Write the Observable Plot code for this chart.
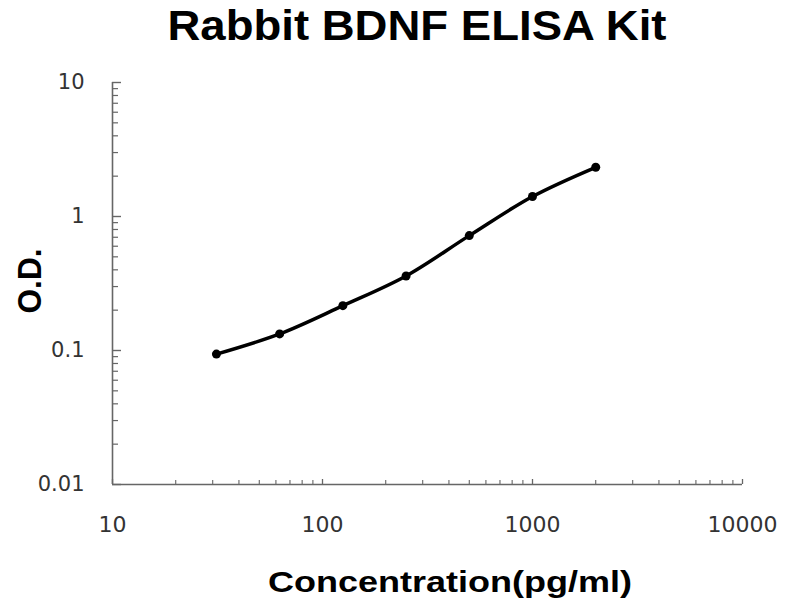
<!DOCTYPE html>
<html>
<head>
<meta charset="utf-8">
<script src="https://cdn.jsdelivr.net/npm/d3@7"></script>
<script src="https://cdn.jsdelivr.net/npm/@observablehq/plot@0.6"></script>
<style>
  html, body { margin: 0; padding: 0; background: #fff; }
  #chart { width: 800px; height: 600px; }
</style>
</head>
<body>
<div id="chart"></div>
<script>
// Data
const concentrations = [31.25, 62.5, 125, 250, 500, 1000, 2000];
const odValues = [0.094, 0.133, 0.216, 0.36, 0.72, 1.41, 2.33];
const xTickLabels = [10, 100, 1000, 10000];
const yTickLabels = [0.01, 0.1, 1, 10];
const titleText = "Rabbit BDNF ELISA Kit";
const xLabelText = "Concentration(pg/ml)";
const yLabelText = "O.D.";

const data = concentrations.map((c, i) => ({conc: c, od: odValues[i]}));

function minorTicks(lo, hi) {
  const out = [];
  for (let d = lo; d < hi; d *= 10) {
    for (let k = 2; k <= 9; k++) out.push(+(k * d).toPrecision(6));
  }
  return out;
}
const xMinor = minorTicks(10, 10000);
const yMinor = minorTicks(0.01, 10);

const axisColor = "#666";

const plot = Plot.plot({
  width: 800,
  height: 600,
  marginLeft: 112,
  marginRight: 58,
  marginTop: 82,
  marginBottom: 116,
  style: {background: "#fff", fontFamily: "DejaVu Sans"},
  x: {type: "log", domain: [10, 10000]},
  y: {type: "log", domain: [0.01, 10]},
  marks: [
    // axis lines
    Plot.ruleX([10], {stroke: axisColor, strokeWidth: 1.6}),
    Plot.ruleY([0.01], {stroke: axisColor, strokeWidth: 1.6}),
    // y ticks (inward)
    Plot.axisY({ticks: yTickLabels, tickSize: 9, dx: 9, text: null, stroke: axisColor, strokeWidth: 1.4, label: null}),
    Plot.axisY({ticks: yMinor, tickSize: 6, dx: 6, text: null, stroke: axisColor, strokeWidth: 1.2, label: null}),
    Plot.axisY({ticks: yTickLabels, tickSize: 0, tickPadding: 28, tickFormat: d => String(d), fontSize: 21, fill: "#333", label: null}),
    // x ticks (inward)
    Plot.axisX({ticks: xTickLabels, tickSize: 5, dy: -5, text: null, stroke: axisColor, strokeWidth: 1.3, label: null}),
    Plot.axisX({ticks: xMinor, tickSize: 4, dy: -4, text: null, stroke: axisColor, strokeWidth: 1.1, label: null}),
    Plot.axisX({ticks: xTickLabels, tickSize: 0, tickPadding: 32, tickFormat: d => String(d), fontSize: 22, fill: "#333", label: null}),
    // curve and points
    Plot.line(data, {x: "conc", y: "od", curve: "catmull-rom", stroke: "#000", strokeWidth: 3.5}),
    Plot.dot(data, {x: "conc", y: "od", r: 4.5, fill: "#000", stroke: "none"})
  ]
});

document.getElementById("chart").appendChild(plot);

const svg = d3.select(plot);
svg.selectAll('[aria-label="y-axis tick label"]').style("font-size", "21px").attr("font-size", 21);
svg.selectAll('[aria-label="x-axis tick label"]').style("font-size", "22px").attr("font-size", 22);

svg.append("text")
  .attr("x", 417).attr("y", 40)
  .attr("text-anchor", "middle")
  .attr("font-family", "Liberation Sans, Arial, sans-serif")
  .attr("font-weight", "bold")
  .attr("font-size", 42)
  .attr("fill", "#000")
  .attr("textLength", 499)
  .attr("lengthAdjust", "spacingAndGlyphs")
  .text(titleText);

svg.append("text")
  .attr("x", 450).attr("y", 592)
  .attr("text-anchor", "middle")
  .attr("font-family", "Liberation Sans, Arial, sans-serif")
  .attr("font-weight", "bold")
  .attr("font-size", 30)
  .attr("fill", "#000")
  .attr("textLength", 364)
  .attr("lengthAdjust", "spacingAndGlyphs")
  .text(xLabelText);

svg.append("text")
  .attr("transform", "translate(41,281) rotate(-90)")
  .attr("text-anchor", "middle")
  .attr("font-family", "Liberation Sans, Arial, sans-serif")
  .attr("font-weight", "bold")
  .attr("font-size", 33)
  .attr("fill", "#000")
  .attr("textLength", 65)
  .attr("lengthAdjust", "spacingAndGlyphs")
  .text(yLabelText);
</script>
</body>
</html>
